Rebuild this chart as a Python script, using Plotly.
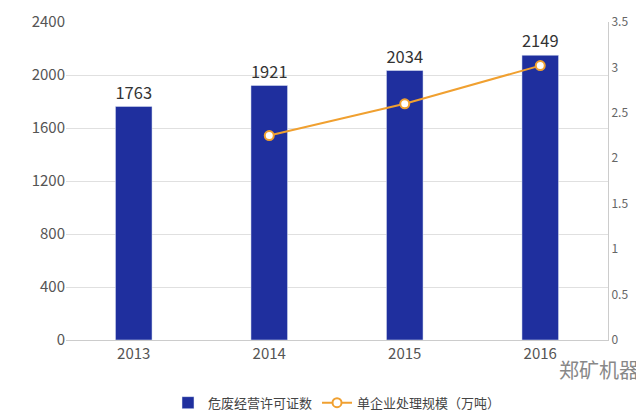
import plotly.graph_objects as go

years = ["2013", "2014", "2015", "2016"]
permits = [1763, 1921, 2034, 2149]
line_years = ["2014", "2015", "2016"]
scale = [2.25, 2.6, 3.02]

fig = go.Figure()
fig.add_trace(go.Bar(x=years, y=permits, name="危废经营许可证数", marker_color="#1f2f9e",
                     width=0.27, text=[str(v) for v in permits], textposition="outside",
                     textfont=dict(size=17, color="#333"), cliponaxis=False))
fig.add_trace(go.Scatter(x=line_years, y=scale, name="单企业处理规模（万吨）", yaxis="y2",
                         mode="lines+markers", line=dict(color="#f0a030", width=2),
                         marker=dict(size=9, color="white", line=dict(color="#f0a030", width=2))))
fig.update_layout(
    width=644, height=420, paper_bgcolor="white", plot_bgcolor="white",
    margin=dict(l=58, r=44, t=14, b=88, autoexpand=False),
    font=dict(family="Noto Sans CJK SC", color="#555"),
    xaxis=dict(tickfont=dict(size=15), showline=True, linecolor="#ccc", ticks=""),
    yaxis=dict(range=[0, 2400], dtick=400, tickfont=dict(size=15), gridcolor="#e0e0e0",
               zeroline=False),
    yaxis2=dict(range=[0, 3.5], dtick=0.5, overlaying="y", side="right", showgrid=False,
                tickfont=dict(size=12, color="#666"), showline=True, linecolor="#ccc",
                zeroline=False),
    legend=dict(orientation="h", x=0.5, xanchor="center", y=-0.15, yanchor="top",
                font=dict(size=13, color="#444")),
)
fig.add_annotation(text="郑矿机器", xref="paper", yref="paper", x=1.06, y=-0.04,
                   xanchor="right", yanchor="top", showarrow=False,
                   font=dict(size=20, color="#888"))
fig.write_html("out.html")
